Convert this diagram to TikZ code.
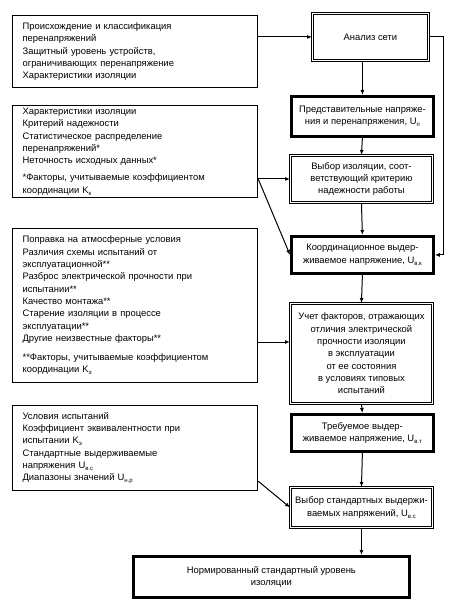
\documentclass[tikz,border=0pt]{standalone}
\usepackage{fontspec}
\setmainfont{Liberation Sans}
\usetikzlibrary{arrows.meta}
\newcommand\lsub[1]{\raisebox{-0.4ex}{\fontsize{6}{6}\selectfont #1}}
\begin{document}
\begin{tikzpicture}[x=1pt,y=-1pt,
  every node/.style={font=\fontsize{9.4}{12.3}\selectfont},
  lbox/.style={draw, line width=1.2pt, anchor=north west, text width=225pt,
    inner xsep=10pt, inner ysep=0pt, minimum width=245pt, align=left},
  rbox/.style={anchor=north west, align=center, inner sep=2pt},
  dbox/.style={rbox, draw, double, double distance=1.5pt, line width=0.9pt},
  tbox/.style={rbox, draw, line width=2.8pt},
  arr/.style={line width=1pt, -{Latex[length=5pt,width=4pt]}},
  ln/.style={line width=1pt}]
\useasboundingbox (0,0) rectangle (456,599);

% left boxes
\node[lbox, minimum height=72pt] (l1) at (12,15)
  {Происхождение и классификация\\ перенапряжений\\ Защитный уровень устройств,\\ ограничивающих перенапряжение\\ Характеристики изоляции};
\node[lbox, minimum height=92pt] (l2) at (12,105)
  {Характеристики изоляции\\ Критерий надежности\\ Статистическое распределение\\ перенапряжений*\\ Неточность исходных данных*\\[5pt] *Факторы, учитываемые коэффициентом\\ координации K\lsub{к}};
\node[lbox, minimum height=154pt] (l3) at (12,228)
  {Поправка на атмосферные условия\\ Различия схемы испытаний от\\ эксплуатационной**\\ Разброс электрической прочности при\\ испытании**\\ Качество монтажа**\\ Старение изоляции в процессе\\ эксплуатации**\\ Другие неизвестные факторы**\\[7pt] **Факторы, учитываемые коэффициентом\\ координации K\lsub{э}};
\node[lbox, minimum height=85pt] (l4) at (12,405)
  {Условия испытаний\\ Коэффициент эквивалентности при\\ испытании K\lsub{э}\\ Стандартные выдерживаемые\\ напряжения U\lsub{в.с}\\ Диапазоны значений U\lsub{н.р}};

% right column
\node[dbox, minimum width=116pt, minimum height=47pt] (a) at (312,13) {Анализ сети};
\node[tbox, minimum width=142pt, minimum height=40pt] (p) at (290,95)
  {Представительные напряже-\\ ния и перенапряжения, U\lsub{п}};
\node[dbox, minimum width=142pt, minimum height=47pt] (v) at (290,155)
  {Выбор изоляции, соот-\\ ветствующий критерию\\ надежности работы};
\node[tbox, minimum width=142pt, minimum height=37pt] (k) at (290,235)
  {Координационное выдер-\\ живаемое напряжение, U\lsub{в.к}};
\node[dbox, minimum width=142pt, minimum height=100pt] (u) at (290,303)
  {Учет факторов, отражающих\\ отличия электрической\\ прочности изоляции\\ в эксплуатации\\ от ее состояния\\ в условиях типовых\\ испытаний};
\node[tbox, minimum width=142pt, minimum height=37pt] (t) at (290,413)
  {Требуемое выдер-\\ живаемое напряжение, U\lsub{в.т}};
\node[dbox, minimum width=142pt, minimum height=40pt] (s) at (290,487)
  {Выбор стандартных выдержи-\\ ваемых напряжений, U\lsub{в.с}};
\node[tbox, minimum width=276pt, minimum height=41pt] (n) at (132,555)
  {Нормированный стандартный уровень\\ изоляции};

\coordinate (rl) at (443,0);
\coordinate (uy) at (0,342);

% connectors
\draw[arr] (l1.east |- a.west) -- (a.west);
\draw[arr] (p.north |- a.south) -- (p.north);
\draw[arr] (p.south) -- (v.north);
\draw[arr] (v.south) -- (k.north);
\draw[arr] (k.south) -- (u.north);
\draw[arr] (u.south) -- (t.north);
\draw[arr] (t.south) -- (s.south |- s.north);
\draw[arr] (s.south) -- (s.south |- n.north);
\draw[arr] (l2.east |- v.west) -- (v.west);
\draw[arr] (l2.east |- v.west) -- (k.west);
\draw[arr] (l3.east |- uy) -- (u.west |- uy);
\draw[arr] ([yshift=10pt]l4.south east) -- (s.west);
\draw[arr] (a.east) -- (a.east -| rl) |- (k.east);
\end{tikzpicture}
\end{document}
